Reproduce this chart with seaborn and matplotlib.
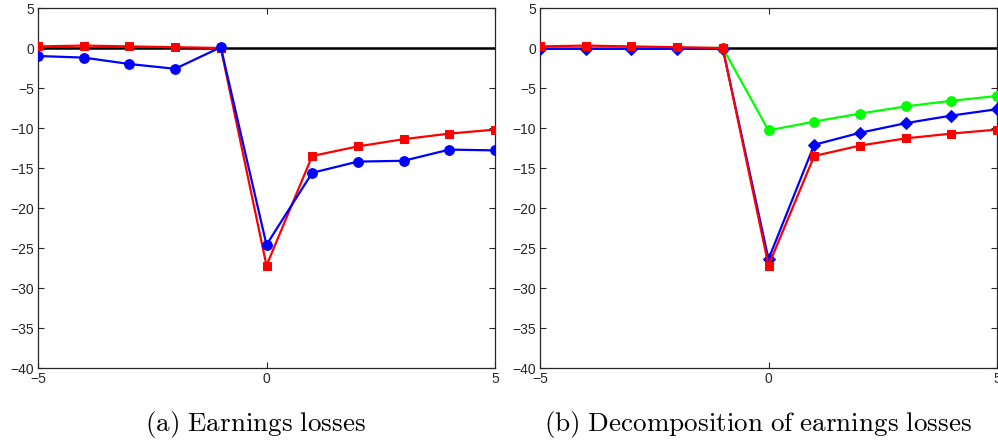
import matplotlib
matplotlib.use("Agg")
import matplotlib.pyplot as plt
import seaborn as sns
import pandas as pd

# Event time relative to displacement
years = [-5, -4, -3, -2, -1, 0, 1, 2, 3, 4, 5]

# Panel (a): earnings losses
model_earnings = [0.2, 0.3, 0.2, 0.1, 0.0, -27.2, -13.5, -12.3, -11.4, -10.7, -10.2]
data_earnings = [-1.0, -1.2, -2.0, -2.6, 0.1, -24.6, -15.6, -14.2, -14.1, -12.7, -12.8]

# Panel (b): decomposition of earnings losses
total_losses = [0.2, 0.3, 0.2, 0.1, 0.0, -27.2, -13.5, -12.2, -11.3, -10.7, -10.2]
wage_component = [-0.1, -0.1, -0.1, -0.1, -0.1, -26.4, -12.1, -10.6, -9.4, -8.45, -7.65]
hours_component = [0.0, 0.0, 0.0, 0.0, 0.0, -10.3, -9.2, -8.2, -7.3, -6.6, -6.0]

captions = ["(a) Earnings losses", "(b) Decomposition of earnings losses"]

sns.set_theme(style="white")
plt.rcParams["font.family"] = ["Liberation Sans", "DejaVu Sans"]
plt.rcParams["mathtext.fontset"] = "cm"

fig = plt.figure(figsize=(9.98, 4.45), dpi=100)
W, H = 998, 445
ax_a = fig.add_axes([38 / W, 1 - 368 / H, 457 / W, 360 / H])
ax_b = fig.add_axes([540 / W, 1 - 368 / H, 457 / W, 360 / H])


def series(vals):
    return pd.DataFrame({"t": years, "v": vals})


def draw(ax, vals, color, marker, ms, z):
    sns.lineplot(data=series(vals), x="t", y="v", ax=ax, color=color,
                 marker=marker, markersize=ms, markeredgecolor=color,
                 linewidth=1.6, zorder=z)


# Panel (a)
draw(ax_a, model_earnings, "#ff0000", "s", 6, 3)
draw(ax_a, data_earnings, "#0000ff", "o", 7, 4)

# Panel (b)
draw(ax_b, hours_component, "#00ff00", "o", 7, 3)
draw(ax_b, wage_component, "#0000ff", "D", 6, 4)
draw(ax_b, total_losses, "#ff0000", "s", 6, 5)

for ax, cap in zip([ax_a, ax_b], captions):
    ax.axhline(0, color="black", linewidth=1.8, zorder=2)
    ax.set_xlim(-5, 5)
    ax.set_ylim(-40, 5)
    ax.set_xticks([-5, 0, 5])
    ax.set_yticks(range(-40, 6, 5))
    ax.set_xlabel("")
    ax.set_ylabel("")
    ax.tick_params(direction="in", length=4, width=0.8, colors="#262626",
                   labelsize=10, top=True, right=True, bottom=True, left=True,
                   pad=3)
    for s in ax.spines.values():
        s.set_color("#262626")
        s.set_linewidth(0.9)
    ax.text(0.476, -0.158, r"$\mathrm{" + cap.replace(" ", r"\ ") + "}$",
            transform=ax.transAxes, ha="center", va="center", fontsize=19.5,
            color="black")

fig.savefig("out.png", dpi=100)
